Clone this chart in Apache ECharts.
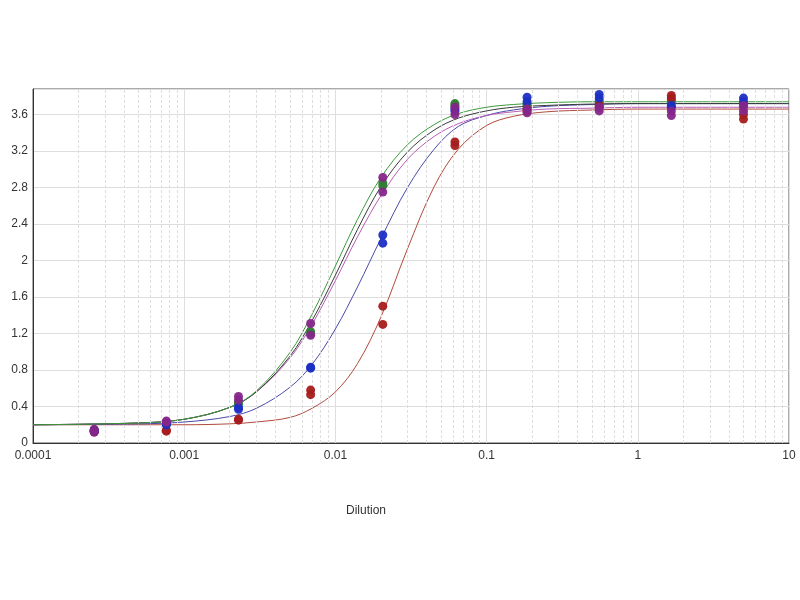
<!DOCTYPE html>
<html>
<head>
<meta charset="utf-8">
<script src="https://cdn.jsdelivr.net/npm/echarts@6/dist/echarts.min.js"></script>
<style>
html,body{margin:0;padding:0;background:#fff;}
#chart{width:800px;height:600px;}
</style>
</head>
<body>
<div id="chart"></div>
<script>
// Dilution points of the measured replicates
const dilutions = [0.000254, 0.000762, 0.002286, 0.006859, 0.02058, 0.06173, 0.1852, 0.5556, 1.6667, 5];
// Replicate readings (two per dilution)
const greenA  = [0.14, 0.22, 0.45, 1.22, 2.85, 3.72, 3.72, 3.75, 3.76, 3.70];
const greenB  = [0.13, 0.21, 0.43, 1.20, 2.82, 3.70, 3.70, 3.73, 3.74, 3.68];
const redA    = [0.13, 0.14, 0.26, 0.58, 1.50, 3.30, 3.66, 3.70, 3.81, 3.60];
const redB    = [0.12, 0.13, 0.25, 0.53, 1.30, 3.26, 3.64, 3.68, 3.78, 3.55];
const blueA   = [0.14, 0.21, 0.39, 0.83, 2.28, 3.66, 3.79, 3.82, 3.70, 3.78];
const blueB   = [0.13, 0.20, 0.37, 0.82, 2.19, 3.64, 3.74, 3.78, 3.68, 3.74];
const purpleA = [0.15, 0.24, 0.51, 1.31, 2.91, 3.68, 3.66, 3.68, 3.64, 3.70];
const purpleB = [0.12, 0.23, 0.47, 1.18, 2.75, 3.60, 3.62, 3.64, 3.59, 3.64];

// Fitted curves, read along each line of the picture
const curveX      = [0.0001, 0.0005, 0.001, 0.002, 0.003, 0.005, 0.007, 0.01, 0.014, 0.02, 0.03, 0.045, 0.065, 0.1, 0.15, 0.25, 0.5, 1, 10];
const curveGreen  = [0.20, 0.22, 0.26, 0.39, 0.57, 0.99, 1.41, 1.94, 2.45, 2.91, 3.27, 3.49, 3.61, 3.68, 3.71, 3.73, 3.74, 3.74, 3.74];
const curveBlack  = [0.20, 0.22, 0.26, 0.39, 0.56, 0.95, 1.34, 1.84, 2.34, 2.81, 3.19, 3.43, 3.56, 3.64, 3.68, 3.70, 3.715, 3.72, 3.72];
const curvePurple = [0.20, 0.22, 0.26, 0.39, 0.56, 0.93, 1.30, 1.78, 2.26, 2.71, 3.11, 3.36, 3.50, 3.59, 3.63, 3.66, 3.67, 3.68, 3.68];
const curveBlue   = [0.20, 0.21, 0.23, 0.29, 0.38, 0.61, 0.86, 1.25, 1.71, 2.24, 2.80, 3.22, 3.47, 3.59, 3.65, 3.69, 3.71, 3.72, 3.72];
const curveRed    = [0.20, 0.20, 0.20, 0.21, 0.23, 0.28, 0.38, 0.56, 0.87, 1.38, 2.13, 2.81, 3.22, 3.48, 3.58, 3.63, 3.65, 3.66, 3.66];

// Axis tick labels
const xTickLabels = {"0.0001":"0.0001","0.001":"0.001","0.01":"0.01","0.1":"0.1","1":"1","10":"10"};
const decades = [0.0001, 0.001, 0.01, 0.1, 1];
const minorSteps = [2, 3, 4, 5, 6, 7, 8, 9];
const xName = "Dilution";

function pairs(xs, ys){ return xs.map((x,i)=>[x, ys[i]]); }
function scatterData(a, b){ return pairs(dilutions, a).concat(pairs(dilutions, b)); }

const minorLines = [];
decades.forEach(d => minorSteps.forEach(m => minorLines.push({xAxis: +(d*m).toPrecision(3)})));

const chart = echarts.init(document.getElementById('chart'), null, {renderer:'canvas'});

function curve(name, data, color, z){
  return {type:'line', name, data:pairs(curveX, data), smooth:0.35, symbol:'none',
    lineStyle:{color, width:1}, z, silent:true};
}
function pts(name, a, b, color){
  return {type:'scatter', name, data:scatterData(a,b), symbol:'circle', symbolSize:9,
    itemStyle:{color, opacity:0.95}, z:5};
}

const series = [
  {type:'line', data:[], silent:true, z:1,
    markLine:{silent:true, symbol:'none', precision:8, label:{show:false},
      lineStyle:{color:'#dedede', width:1, type:[3,2]}, data:minorLines, animation:false}},
  curve('fitRed', curveRed, '#b24a3c', 3),
  curve('fitBlue', curveBlue, '#4a4aa8', 3),
  curve('fitPurple', curvePurple, '#b85cb8', 3),
  curve('fitBlack', curveBlack, '#3a3a3a', 3),
  curve('fitGreen', curveGreen, '#3c9a3c', 3),
  pts('green', greenA, greenB, '#2f7d32'),
  pts('red', redA, redB, '#a51c1c'),
  pts('blue', blueA, blueB, '#1c2fc4'),
  pts('purple', purpleA, purpleB, '#85268a')
];

chart.setOption({
  animation:false,
  backgroundColor:'#ffffff',
  grid:{left:33, right:11, top:89, bottom:157, show:true, borderColor:'#555', borderWidth:1, backgroundColor:'transparent'},
  xAxis:{type:'log', logBase:10, min:0.0001, max:10,
    axisLine:{show:true, lineStyle:{color:'#333', width:1}},
    axisTick:{show:false},
    axisLabel:{color:'#333', fontSize:12, fontFamily:'Liberation Sans, Arial, sans-serif', margin:7,
      formatter:v => { const k = String(+v.toPrecision(1)); return xTickLabels[k] !== undefined ? xTickLabels[k] : k; }},
    splitLine:{show:true, lineStyle:{color:'#dedede', width:1}},
    minorTick:{show:false}, minorSplitLine:{show:false}
  },
  yAxis:{type:'value', min:0, max:3.88, interval:0.4,
    axisLine:{show:true, lineStyle:{color:'#333', width:1}},
    axisTick:{show:false},
    axisLabel:{color:'#333', fontSize:12, fontFamily:'Liberation Sans, Arial, sans-serif', margin:5, showMaxLabel:false,
      formatter:v => String(+v.toFixed(1))},
    splitLine:{show:true, lineStyle:{color:'#dedede', width:1}}
  },
  graphic:[{type:'text', left:368-22, top:505,
    style:{text:xName, fill:'#333', fontSize:12, fontFamily:'Liberation Sans, Arial, sans-serif'}}],
  series
});
</script>
</body>
</html>
